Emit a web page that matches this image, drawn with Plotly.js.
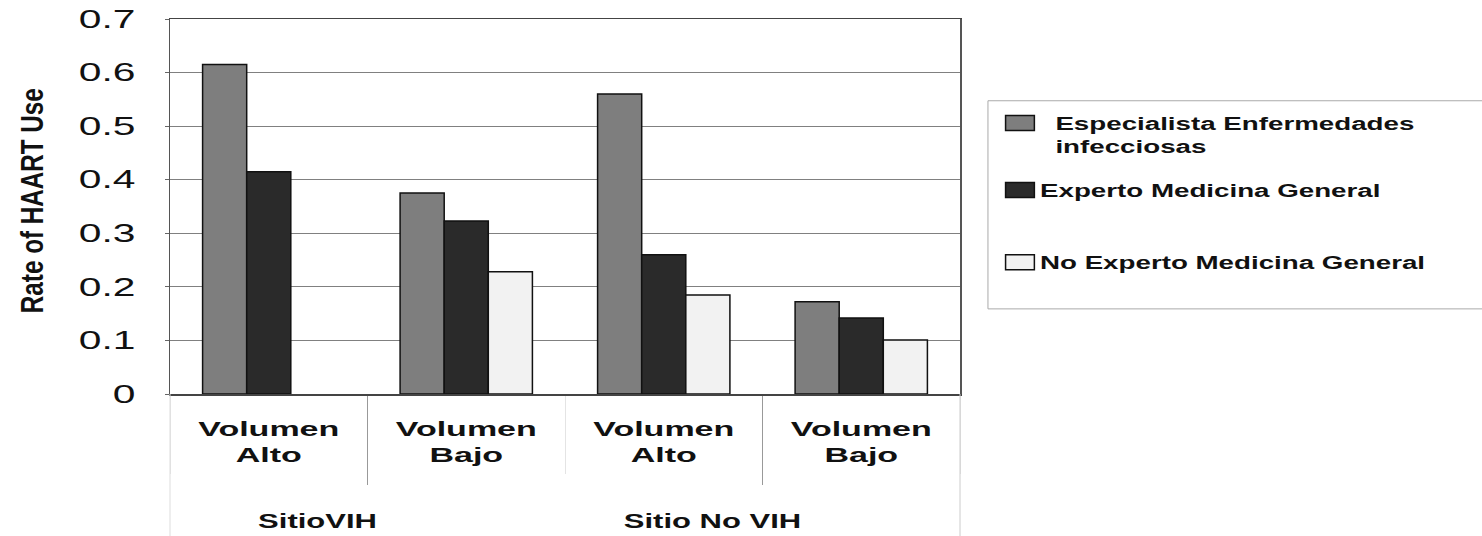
<!DOCTYPE html>
<html>
<head>
<meta charset="utf-8">
<script src="https://cdn.plot.ly/plotly-3.0.1.min.js"></script>
<style>
html,body{margin:0;padding:0;background:#fff;}
#chart{width:1482px;height:536px;}
</style>
</head>
<body>
<div id="chart"></div>
<script>
const sites = ["SitioVIH", "SitioVIH", "Sitio No VIH", "Sitio No VIH"];
const volumes = ["Volumen<br>Alto", "Volumen<br>Bajo", "Volumen<br>Alto", "Volumen<br>Bajo"];
const seriesNames = ["\u00a0\u00a0Especialista Enfermedades<br>\u00a0\u00a0infecciosas", "Experto Medicina General", "No Experto Medicina General"];
const especialista = [0.615, 0.375, 0.560, 0.172];
const experto = [0.415, 0.323, 0.260, 0.142];
const noExperto = [null, 0.228, 0.185, 0.101];
const yTicks = [0, 0.1, 0.2, 0.3, 0.4, 0.5, 0.6, 0.7];
const yTickText = ["0", "0.1", "0.2", "0.3", "0.4", "0.5", "0.6", "0.7"];
const yTitle = "Rate of HAART Use";

const colors = ["#7e7e7e", "#2a2a2a", "#f2f2f2"];
const values = [especialista, experto, noExperto];

const traces = values.map((v, i) => ({
  type: "bar",
  name: seriesNames[i],
  x: [sites, volumes],
  y: v,
  legendgroup: "g" + i,
  marker: {color: colors[i], line: {color: "#111", width: 1.5}},
  hoverinfo: "y"
}));

const FONT = "Liberation Sans, Arial, sans-serif";

const layout = {
  width: 1482, height: 536,
  margin: {l: 170, r: 522, t: 19, b: 142},
  paper_bgcolor: "#fff", plot_bgcolor: "#fff",
  barmode: "group",
  bargap: 0.33,
  bargroupgap: 0,
  showlegend: true,
  legend: {
    x: 1.0506, xanchor: "left", y: 0.771, yanchor: "top",
    bgcolor: "rgba(0,0,0,0)", borderwidth: 0,
    traceorder: "grouped", tracegroupgap: 17,
    valign: "top",
    font: {family: FONT, size: 18, color: "#111", weight: "bold"}
  },
  xaxis: {
    type: "multicategory",
    showline: true, linecolor: "#444", linewidth: 1.5, mirror: true,
    showgrid: false,
    tickson: "boundaries", ticks: "outside", ticklen: 89, tickcolor: "#999", tickwidth: 1,
    showdividers: true, dividercolor: "#e4e4e4", dividerwidth: 1,
    ticklabelstandoff: 16,
    tickfont: {family: FONT, size: 20, color: "#111", weight: "bold"}
  },
  yaxis: {
    range: [0, 0.7],
    tickvals: yTicks, ticktext: yTickText,
    showgrid: true, gridcolor: "#808080", gridwidth: 1,
    showline: true, linecolor: "#555", linewidth: 1.5, mirror: true,
    zeroline: false,
    ticks: "outside", ticklen: 4, tickcolor: "#666",
    ticklabelstandoff: 24,
    tickfont: {family: FONT, size: 25, color: "#111"}
  },
  annotations: [{
    text: yTitle,
    xref: "paper", yref: "paper",
    x: -0.1747, y: 0.517, xanchor: "center", yanchor: "middle",
    textangle: -90, showarrow: false,
    font: {family: FONT, size: 32, color: "#111", weight: "bold"}
  }],
  shapes: [
    {type: "rect", xref: "paper", yref: "paper", x0: 1.0354, x1: 1.7, y0: 0.227, y1: 0.782,
     line: {color: "#aaa", width: 1}, fillcolor: "rgba(0,0,0,0)"},
    {type: "line", xref: "paper", yref: "paper", x0: 0, x1: 0, y0: 0, y1: -0.38, line: {color: "#ddd", width: 1}},
    {type: "line", xref: "paper", yref: "paper", x0: 1, x1: 1, y0: 0, y1: -0.38, line: {color: "#ccc", width: 1}}
  ]
};

// horizontal stretch of text to match the wide lettering of the reference
function stretch(nodes, factor, target) {
  nodes.forEach(t => {
    const lines = t.querySelectorAll("tspan.line");
    const els = lines.length ? Array.from(lines) : [t];
    els.forEach(el => {
      const w = el.getComputedTextLength();
      if (!w) return;
      el.setAttribute("textLength", target ? target : w * factor);
      el.setAttribute("lengthAdjust", "spacingAndGlyphs");
    });
  });
}

function shiftY(el, dy) {
  const tr = el.getAttribute("transform") || "";
  el.setAttribute("transform", "translate(0," + dy + ") " + tr);
}

const gd = document.getElementById("chart");
Plotly.newPlot(gd, traces, layout, {displayModeBar: false, staticPlot: true}).then(() => {
  stretch(gd.querySelectorAll("g.ytick text"), 1.63);
  stretch(gd.querySelectorAll("g.xtick text"), 1.7);
  stretch(gd.querySelectorAll("g.xtick2 text"), 1.55);
  stretch(gd.querySelectorAll(".legend text.legendtext"), 1.54);
  stretch(gd.querySelectorAll(".annotation-text"), null, 225);
  gd.querySelectorAll("g.xtick2").forEach(g => g.setAttribute("transform", "translate(-50,58)"));
  gd.querySelectorAll(".legend [clip-path]").forEach(el => el.removeAttribute("clip-path"));
  gd.querySelectorAll(".legend .legendpoints path").forEach(p => {
    p.setAttribute("transform", (p.getAttribute("transform") || "") + " scale(2.4,1.25)");
    p.style.vectorEffect = "non-scaling-stroke";
  });
  const items = gd.querySelectorAll(".legend g.traces");
  if (items.length === 3) shiftY(items[2], 29);
});
</script>
</body>
</html>
